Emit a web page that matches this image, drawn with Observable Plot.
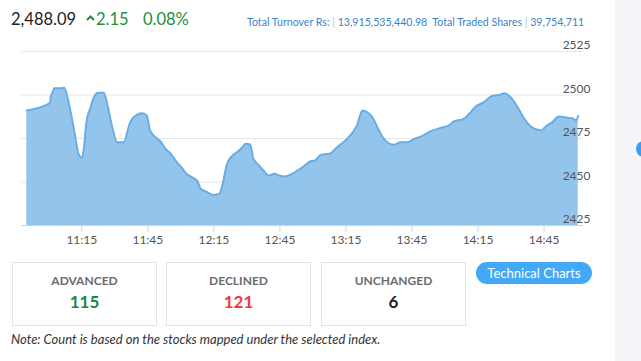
<!DOCTYPE html>
<html>
<head>
<meta charset="utf-8">
<script src="https://cdn.jsdelivr.net/npm/d3@7"></script>
<script src="https://cdn.jsdelivr.net/npm/@observablehq/plot@0.6"></script>
<style>
  html, body { margin: 0; padding: 0; background: #fff; }
  #wrap { position: relative; width: 641px; height: 361px; overflow: hidden; font-family: Lato, "Open Sans", sans-serif; background: #fff; }
  #side { position: absolute; left: 615px; top: 0; width: 26px; height: 361px; background: #f4f5f9; }
  #dot { position: absolute; left: 636px; top: 141px; width: 16px; height: 16px; border-radius: 50%; background: #3d9cf0; }
  #chart { position: absolute; left: 0; top: 0; }
  .abs { position: absolute; white-space: nowrap; }
  #price { left: 11px; top: 9px; font-size: 16.5px; color: #222; }
  #chev { left: 86px; top: 15px; }
  #chg { left: 96px; top: 9px; font-size: 16.5px; color: #1a8f3c; }
  #pct { left: 143px; top: 9px; font-size: 16.5px; color: #1a8f3c; }
  #turn { left: 247px; top: 16px; font-size: 10.6px; color: #3a83c8; }
  #turn .bar { color: #9cc6ee; }
  .box { position: absolute; top: 262px; width: 143px; height: 62px; border: 1px solid #e3e3e3; text-align: center; }
  .box .lab { position: absolute; left: 0; right: 0; top: 10px; font-size: 12px; font-weight: 700; color: #6b6b6b; }
  .box .num { position: absolute; left: 0; right: 0; top: 28px; font-size: 17px; font-weight: 700; }
  #btn { left: 476px; top: 262px; width: 116px; height: 22px; border-radius: 11px; background: #43a8f5; color: #fff; font-size: 13px; line-height: 22px; text-align: center; }
  #note { left: 11px; top: 331px; font-size: 13px; font-style: italic; color: #333; }
</style>
</head>
<body>
<div id="wrap">
  <div id="side"></div>
  <div id="dot"></div>
  <div id="chart"></div>
  <div class="abs" id="price"></div>
  <svg class="abs" id="chev" width="9" height="6"><polyline points="1,5 4.5,1.5 8,5" fill="none" stroke="#1a8f3c" stroke-width="2"/></svg>
  <div class="abs" id="chg"></div>
  <div class="abs" id="pct"></div>
  <div class="abs" id="turn"></div>
  <div class="box" style="left:12px"><div class="lab" id="l0"></div><div class="num" id="n0" style="color:#17893a"></div></div>
  <div class="box" style="left:166px"><div class="lab" id="l1"></div><div class="num" id="n1" style="color:#f2373a"></div></div>
  <div class="box" style="left:321px"><div class="lab" id="l2"></div><div class="num" id="n2" style="color:#222"></div></div>
  <div class="abs" id="btn">Technical Charts</div>
  <div class="abs" id="note">Note: Count is based on the stocks mapped under the selected index.</div>
</div>
<script>
const times = ["10:50:00","11:00:30","11:01:00","11:01:30","11:02:30","11:05:30","11:07:00","11:09:00","11:11:30","11:13:30",
"11:15:00","11:16:00","11:17:00","11:19:00","11:20:30","11:22:30","11:25:00","11:26:30","11:29:00","11:31:00",
"11:34:00","11:37:00","11:39:30","11:42:30","11:44:30","11:46:00","11:48:30","11:51:00","11:53:00","11:55:30",
"11:57:30","12:00:00","12:02:30","12:05:00","12:07:30","12:09:00","12:12:00","12:14:30","12:17:30","12:19:00",
"12:21:00","12:23:30","12:25:30","12:28:00","12:29:30","12:31:30","12:33:00","12:35:30","12:37:30","12:40:00",
"12:42:30","12:44:30","12:47:30","12:50:30","12:53:00","12:56:00","12:59:00","13:01:00","13:03:30","13:07:30",
"13:11:00","13:15:30","13:20:00","13:22:30","13:24:45","13:27:00","13:30:00","13:32:15","13:36:45","13:40:00",
"13:43:00","13:46:00","13:49:00","13:53:30","13:58:00","14:01:45","14:04:00","14:08:30","14:11:00","14:14:00",
"14:17:45","14:20:45","14:25:15","14:27:00","14:30:00","14:33:00","14:36:00","14:39:00","14:42:00","14:43:45",
"14:45:45","14:48:45","14:51:45","14:55:30","14:58:30","14:59:30","15:00:30"];
const values = [2491.1,2495.3,2499.7,2500.7,2503.9,2503.9,2504.1,2495.9,2479.6,2466.2,
2463.9,2470.0,2483.4,2493.0,2498.7,2501.3,2501.3,2495.0,2480.6,2472.9,
2472.9,2484.4,2488.2,2489.5,2488.2,2479.6,2475.7,2472.9,2469.1,2466.2,
2462.4,2458.9,2454.7,2452.8,2450.5,2446.1,2444.2,2442.6,2443.2,2449.0,
2460.5,2465.2,2467.1,2470.0,2472.0,2471.4,2463.3,2459.5,2456.6,2453.7,
2454.7,2453.7,2453.2,2454.7,2456.6,2459.1,2462.0,2462.4,2465.6,2466.2,
2470.0,2474.8,2482.5,2491.1,2490.1,2487.2,2479.6,2474.8,2471.4,2472.9,
2472.9,2474.8,2476.1,2479.2,2481.1,2482.5,2484.8,2486.3,2489.2,2493.4,
2495.9,2499.1,2500.3,2501.0,2498.4,2493.0,2486.3,2481.9,2480.0,2479.6,
2481.9,2484.4,2487.6,2486.9,2486.3,2485.3,2488.09];
const yTicks = [2425, 2450, 2475, 2500, 2525];
const xTicks = ["11:15:00","11:45:00","12:15:00","12:45:00","13:15:00","13:45:00","14:15:00","14:45:00"];
const xDomain = ["10:47:36","15:02:54"];
const header = {price: "2,488.09", change: "2.15", pct: "0.08%"};
const turnoverLabel = "Total Turnover Rs:", turnover = "13,915,535,440.98";
const sharesLabel = "Total Traded Shares", shares = "39,754,711";
const boxLabels = ["ADVANCED", "DECLINED", "UNCHANGED"];
const boxValues = ["115", "121", "6"];

const parse = d3.timeParse("%H:%M:%S");
const data = times.map((t, i) => ({t: parse(t), v: values[i]}));
const base = d3.min(yTicks);

const plot = Plot.plot({
  width: 641, height: 250,
  marginLeft: 21, marginRight: 58, marginTop: 51, marginBottom: 25,
  style: {fontFamily: "Lato, 'Open Sans', sans-serif", fontSize: "12px", background: "transparent"},
  x: {type: "time", domain: xDomain.map(parse)},
  y: {domain: [d3.min(yTicks), d3.max(yTicks)]},
  marks: [
    Plot.gridY(yTicks, {stroke: "#e6e6e6", strokeOpacity: 1}),
    Plot.areaY(data, {x: "t", y1: () => base, y2: "v", fill: "#93c5ec", fillOpacity: 1, curve: "monotone-x"}),
    Plot.lineY(data, {x: "t", y: "v", stroke: "#6aace4", strokeWidth: 2, curve: "monotone-x"}),
    Plot.ruleY([base], {stroke: "#ccd6eb"}),
    Plot.axisX(xTicks.map(parse), {tickSize: 7, tickPadding: 3, stroke: "#ccd6eb", fill: "#555", tickFormat: d3.timeFormat("%H:%M"), label: null, fontSize: 12}),
    Plot.axisY(yTicks, {anchor: "right", tickSize: 0, tickPadding: 0, textAnchor: "end", dx: 7, dy: -6, fill: "#555", label: null, fontSize: 12, tickFormat: d => String(d)})
  ]
});
document.getElementById("chart").appendChild(plot);

document.getElementById("price").textContent = header.price;
document.getElementById("chg").textContent = header.change;
document.getElementById("pct").textContent = header.pct;
document.getElementById("turn").innerHTML = turnoverLabel + ' <span class="bar">|</span> ' + turnover + '&nbsp;&nbsp;' + sharesLabel + ' <span class="bar">|</span> ' + shares;
boxLabels.forEach((l, i) => {
  document.getElementById("l" + i).textContent = l;
  document.getElementById("n" + i).textContent = boxValues[i];
});
</script>
</body>
</html>
